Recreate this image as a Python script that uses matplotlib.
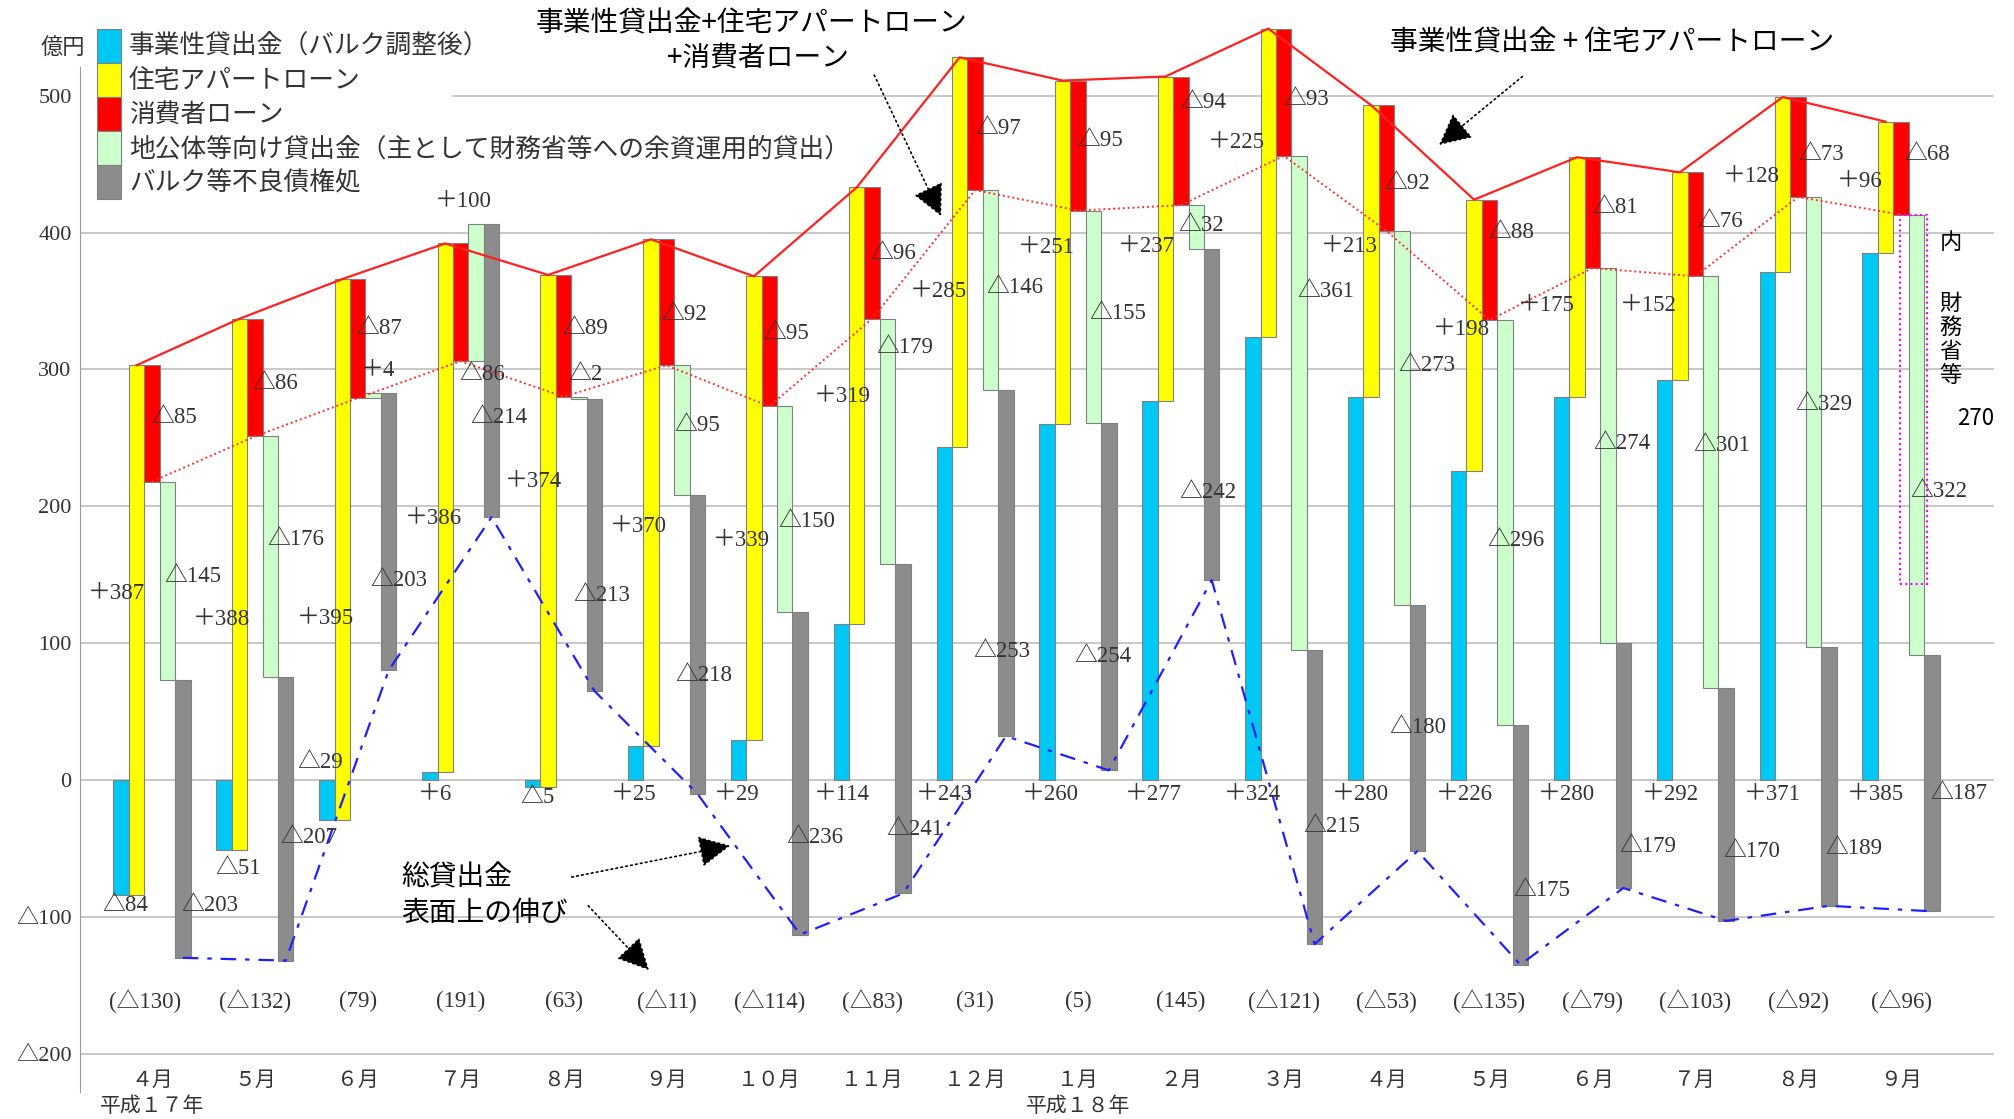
import numpy as np
import matplotlib.pyplot as plt
from matplotlib.patches import Patch, Rectangle

plt.rcParams['font.family'] = ['Noto Sans CJK JP', 'DejaVu Sans']
NUM = ['Liberation Serif', 'Noto Sans CJK JP', 'DejaVu Sans']

# 億円, 平成17年4月 - 平成18年9月
months = ['４月', '５月', '６月', '７月', '８月', '９月', '１０月', '１１月', '１２月',
          '１月', '２月', '３月', '４月', '５月', '６月', '７月', '８月', '９月']
business = [-84, -51, -29, 6, -5, 25, 29, 114, 243, 260, 277, 324, 280, 226, 280, 292, 371, 385]
housing = [387, 388, 395, 386, 374, 370, 339, 319, 285, 251, 237, 225, 213, 198, 175, 152, 128, 96]
consumer = [-85, -86, -87, -86, -89, -92, -95, -96, -97, -95, -94, -93, -92, -88, -81, -76, -73, -68]
public = [-145, -176, 4, 100, -2, -95, -150, -179, -146, -155, -32, -361, -273, -296, -274, -301, -329, -322]
bulk = [-203, -207, -203, -214, -213, -218, -236, -241, -253, -254, -242, -215, -180, -175, -179, -170, -189, -187]
total = [-130, -132, 79, 191, 63, -11, -114, -83, 31, 5, 145, -121, -53, -135, -79, -103, -92, -96]
mof_share = 270

names = ['事業性貸出金（バルク調整後）', '住宅アパートローン', '消費者ローン',
         '地公体等向け貸出金（主として財務省等への余資運用的貸出）', 'バルク等不良債権処']
colors = ['#00C8F5', '#FFFF00', '#FF0000', '#CCFFCC', '#8C8C8C']
offsets = [-0.3, -0.15, 0.0, 0.15, 0.3]
W = 0.15

# label placement (x offset from month centre, y in 億円)
lbl_dx = [
    [-0.26, -0.16, -0.37, -0.25, -0.25, -0.32, -0.32, -0.29, -0.30, -0.27, -0.27, -0.30, -0.25, -0.24, -0.25, -0.24, -0.25, -0.25],
    [-0.35, -0.32, -0.31, -0.26, -0.29, -0.27, -0.27, -0.29, -0.36, -0.31, -0.34, -0.46, -0.36, -0.27, -0.45, -0.46, -0.45, -0.40],
    [0.22, 0.20, 0.21, 0.21, 0.21, 0.17, 0.16, 0.20, 0.22, 0.22, 0.22, 0.22, 0.20, 0.21, 0.22, 0.24, 0.22, 0.25],
    [0.40, 0.40, 0.20, 0.03, 0.21, 0.30, 0.36, 0.32, 0.39, 0.39, 0.20, 0.41, 0.39, 0.26, 0.29, 0.26, 0.25, 0.37],
    [0.56, 0.52, 0.40, 0.37, 0.37, 0.36, 0.44, 0.41, 0.26, 0.24, 0.26, 0.47, 0.30, 0.51, 0.54, 0.55, 0.54, 0.56],
]
lbl_y = [
    [-92, -65, 13, -11, -13, -11, -11, -11, -11, -11, -11, -11, -11, -11, -11, -11, -11, -11],
    [136, 117, 118, 191, 218, 185, 175, 280, 357, 389, 390, 466, 390, 329, 347, 347, 441, 437],
    [265, 290, 330, 296, 330, 340, 326, 385, 476, 467, 495, 497, 436, 400, 418, 408, 457, 457],
    [149, 176, 299, 423, 296, 259, 189, 316, 360, 341, 405, 357, 303, 175, 246, 244, 274, 211],
    [-92, -42, 146, 265, 135, 76, -42, -36, 94, 90, 210, -34, 38, -81, -49, -52, -50, -10],
]


def sign_fmt(v):
    if v > 0:
        return '＋%d' % v
    if v < 0:
        return '△%d' % -v
    return '0'


def axis_fmt(v):
    return '△%d' % -v if v < 0 else '%d' % v


fig = plt.figure(figsize=(20.15, 11.19), dpi=100)
ax = fig.add_axes([0.0397, 0.0193, 0.9497, 0.9637])
ax.set_xlim(-0.7, 17.9)
ax.set_ylim(-232, 556)

x = np.arange(len(months))
series = [business, housing, consumer, public, bulk]
level = np.zeros(len(months))
levels = []
for k, vals in enumerate(series):
    vals = np.array(vals, dtype=float)
    ax.bar(x + offsets[k], vals, bottom=level, width=W, color=colors[k],
           edgecolor='#808080', linewidth=0.8, zorder=2)
    level = level + vals
    levels.append(level.copy())
    for i, v in enumerate(vals):
        ax.text(i + lbl_dx[k][i], lbl_y[k][i], sign_fmt(int(v)), ha='center', va='center',
                fontsize=16.5, family=NUM, color='#333333', zorder=6)

# 事業性+住宅, 事業性+住宅+消費者, 総貸出金
ax.plot(x + offsets[1], levels[1], color='#FF2020', lw=1.6, zorder=4)
ax.plot(x + offsets[2], levels[2], color='#FF3030', lw=1.4, ls=(0, (1, 1.5)), zorder=4)
ax.plot(x + offsets[4], levels[4], color='#2020FF', lw=1.6, ls=(0, (7, 4, 2, 4)), zorder=4)

# grid
for g in range(-200, 501, 100):
    x0 = 2.92 if g == 500 else -0.7
    ax.hlines(g, x0, 17.9, color='#c4c4c4', lw=1.3, zorder=0)

ax.set_yticks(range(-200, 501, 100))
ax.set_yticklabels([axis_fmt(v) for v in range(-200, 501, 100)], family=NUM, fontsize=16, color='#333333')
ax.tick_params(axis='y', length=0, pad=6)
ax.set_xticks([])
for s in ['top', 'right', 'bottom']:
    ax.spines[s].set_visible(False)
ax.spines['left'].set_color('#999999')
ax.spines['left'].set_bounds(-228, 521)

# totals and month labels
for i, t in enumerate(total):
    ax.text(i - (0.07 if i == 0 else 0), -162, '(%s)' % axis_fmt(t), ha='center', va='center',
            fontsize=16.5, family=NUM, color='#333333')
    ax.text(i, -219, months[i], ha='center', va='center', fontsize=15, color='#333333')
ax.text(0, -238, '平成１７年', ha='center', va='center', fontsize=15, color='#333333', clip_on=False)
ax.text(9, -238, '平成１８年', ha='center', va='center', fontsize=15, color='#333333', clip_on=False)
ax.text(-0.87, 535, '億円', ha='center', va='center', fontsize=16, color='#333333', clip_on=False)

# legend
handles = [Patch(facecolor=c, edgecolor='#808080', linewidth=0.8) for c in colors]
leg = ax.legend(handles, names, loc='upper left', bbox_to_anchor=(0.0455, 0.979),
                bbox_transform=fig.transFigure, frameon=False, fontsize=18.5,
                labelspacing=0, handleheight=1.66, handlelength=0.95, handletextpad=0.3,
                borderpad=0.2, borderaxespad=0)
for t in leg.get_texts():
    t.set_color('#333333')

# 財務省等 share of the September public-sector decline
top = levels[2][17]
ax.add_patch(Rectangle((16.99, top - mof_share), 0.26, mof_share, fill=False,
                       edgecolor='#FF00FF', lw=1.5, ls=(0, (1, 1.5)), zorder=5))
ax.text(17.48, 393, '内', ha='center', va='center', fontsize=16)
ax.text(17.48, 322, '財\n務\n省\n等', ha='center', va='center', fontsize=16, linespacing=1.05)
ax.text(17.73, 264, str(mof_share), ha='center', va='center', fontsize=16)

# callouts
arrow = dict(arrowstyle='-|>,head_length=0.9,head_width=0.45', mutation_scale=22,
             color='black', lw=1.2, ls=(0, (1, 2)), shrinkA=0, shrinkB=0)
ax.text(5.83, 553, '事業性貸出金+住宅アパートローン', ha='center', va='center', fontsize=20)
ax.text(5.89, 528, '+消費者ローン', ha='center', va='center', fontsize=20)
ax.annotate('', xy=(7.67, 412), xytext=(7.02, 515), arrowprops=arrow, zorder=7)
ax.text(14.19, 539, '事業性貸出金 + 住宅アパートローン', ha='center', va='center', fontsize=20)
ax.annotate('', xy=(12.51, 464), xytext=(13.32, 514), arrowprops=arrow, zorder=7)
ax.text(2.42, -71, '総貸出金', ha='left', va='center', fontsize=20)
ax.text(2.42, -97, '表面上の伸び', ha='left', va='center', fontsize=20)
ax.annotate('', xy=(5.62, -48), xytext=(4.08, -71), arrowprops=arrow, zorder=7)
ax.annotate('', xy=(4.83, -139), xytext=(4.24, -92), arrowprops=arrow, zorder=7)

fig.savefig('out.png', dpi=100)
